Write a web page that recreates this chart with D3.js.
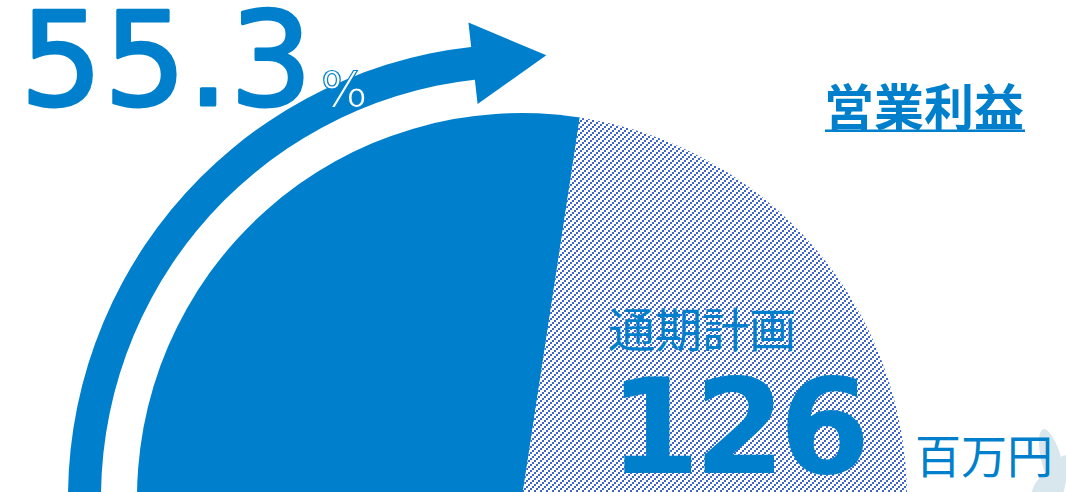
<!DOCTYPE html>
<html>
<head>
<meta charset="utf-8">
<script src="https://cdn.jsdelivr.net/npm/d3@7"></script>
<style>
html,body{margin:0;padding:0;background:#fff;overflow:hidden;}
svg{display:block;}
</style>
</head>
<body>
<svg id="chart" width="1066" height="492"></svg>
<script>
// ---- data ----
const categories = ["実績", "残り"];
const values = [55.3, 44.7];
const rateLabel = "55.3";
const rateUnit = "%";
const titleLabel = "営業利益";
const planLabel = "通期計画";
const planValue = "126";
const planUnit = "百万円";

// ---- styles ----
const BLUE = "#0080CC";
const HATCH = "#3f66c8";
const cx = 522, cy = 498, R = 385;
const deg = Math.PI / 180;

const svg = d3.select("#chart");
const defs = svg.append("defs");

// hatch pattern (upward diagonal, 2px blocks)
const pat = defs.append("pattern")
  .attr("id", "hatch").attr("patternUnits", "userSpaceOnUse")
  .attr("width", 6).attr("height", 6);
pat.append("rect").attr("width", 6).attr("height", 6).attr("fill", "#fff");
[[0, 4], [2, 2], [4, 0]].forEach(p => {
  pat.append("rect").attr("x", p[0]).attr("y", p[1]).attr("width", 2).attr("height", 2)
    .attr("fill", HATCH).attr("shape-rendering", "crispEdges");
});

// ---- pie ----
const pie = d3.pie().sort(null).value(d => d)
  .startAngle(-92 * deg).endAngle(90 * deg);
const arc = d3.arc().innerRadius(0).outerRadius(R);
const fills = [BLUE, "url(#hatch)"];

const g = svg.append("g").attr("transform", `translate(${cx},${cy})`);
g.selectAll("path.slice").data(pie(values)).join("path")
  .attr("class", "slice")
  .attr("d", arc)
  .attr("fill", (d, i) => fills[i]);

// ---- progress arrow ----
const arrowInner = 421, arrowOuter = 454, arrowEnd = -6.2 * deg;
const arrowArc = d3.arc().innerRadius(arrowInner).outerRadius(arrowOuter)
  .startAngle(-95 * deg).endAngle(arrowEnd);
g.append("path").attr("d", arrowArc()).attr("fill", BLUE);
const pt = (a, r) => [r * Math.sin(a), -r * Math.cos(a)];
const rm = (arrowInner + arrowOuter) / 2;
const mid = pt(arrowEnd, rm);
const tan = [Math.cos(arrowEnd), Math.sin(arrowEnd)];
const b1 = pt(arrowEnd - 0.004, rm + 41), b2 = pt(arrowEnd - 0.004, rm - 41);
const tip = [mid[0] + 72 * tan[0], mid[1] + 72 * tan[1]];
g.append("path").attr("d", d3.line()([b1, tip, b2]) + "Z").attr("fill", BLUE);

// ---- faint decoration bottom-right ----
const deco = svg.append("g").attr("opacity", 0.55);
[[1052, 462, 10, 34, -15], [1058, 478, 9, 24, 20], [1044, 485, 8, 16, 40]].forEach(e => {
  deco.append("ellipse").attr("cx", e[0]).attr("cy", e[1]).attr("rx", e[2]).attr("ry", e[3])
    .attr("transform", `rotate(${e[4]},${e[0]},${e[1]})`).attr("fill", "#b9d3df");
});

// ---- texts ----
const rateG = svg.append("g");
rateG.append("text").attr("x", 20).attr("y", 105)
  .attr("font-family", "DejaVu Sans").attr("font-size", 130).attr("letter-spacing", 1)
  .attr("fill", "#fff").attr("stroke", "#fff").attr("stroke-width", 6)
  .attr("stroke-linejoin", "round")
  .text(rateLabel);
rateG.append("text").attr("x", 20).attr("y", 105)
  .attr("font-family", "DejaVu Sans").attr("font-size", 130).attr("letter-spacing", 1)
  .attr("fill", BLUE).attr("stroke", BLUE).attr("stroke-width", 3)
  .attr("stroke-linejoin", "round")
  .text(rateLabel);
svg.append("text").attr("x", 321).attr("y", 107)
  .attr("font-family", "DejaVu Sans").attr("font-size", 49)
  .attr("fill", "#fff").attr("stroke", BLUE).attr("stroke-width", 1.2)
  .text(rateUnit);

svg.append("text").attr("x", 824).attr("y", 103.5)
  .attr("dominant-baseline", "central")
  .attr("font-family", "Noto Sans CJK JP").attr("font-weight", 700).attr("font-size", 50)
  .attr("fill", BLUE).text(titleLabel);
svg.append("rect").attr("x", 825).attr("y", 129.5).attr("width", 200).attr("height", 2.5).attr("fill", BLUE);

svg.append("text").attr("x", 608).attr("y", 326.5)
  .attr("dominant-baseline", "central")
  .attr("font-family", "Noto Sans CJK JP").attr("font-size", 47)
  .attr("fill", BLUE).text(planLabel);

svg.append("text").attr("x", 609).attr("y", 473)
  .attr("font-family", "DejaVu Sans").attr("font-weight", 700).attr("font-size", 131)
  .attr("letter-spacing", -6)
  .attr("fill", BLUE).text(planValue);

svg.append("text").attr("x", 915).attr("y", 453)
  .attr("dominant-baseline", "central")
  .attr("font-family", "Noto Sans CJK JP").attr("font-size", 46)
  .attr("fill", BLUE).text(planUnit);
</script>
</body>
</html>
